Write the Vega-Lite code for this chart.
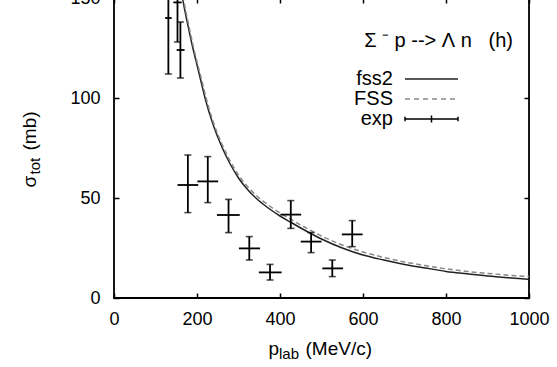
{
  "$schema": "https://vega.github.io/schema/vega-lite/v6.json",
  "width": 415,
  "height": 300,
  "autosize": {"type": "none"},
  "padding": {"left": 114, "top": -2, "right": 28, "bottom": 69},
  "background": "white",
  "config": {
    "font": "Liberation Sans",
    "view": {"stroke": "black", "strokeWidth": 1.8},
    "axis": {
      "grid": false, "domain": false, "tickColor": "black", "tickSize": -5, "tickWidth": 1.5,
      "labelColor": "black", "labelFontSize": 18, "labelFont": "Liberation Sans",
      "labelFlush": false, "labelOverlap": false,
      "titleColor": "black", "titleFont": "Liberation Sans", "titleFontWeight": "normal"
    }
  },
  "title": {
    "text": "Σ\u00a0⁻\u00a0p\u00a0-->\u00a0Λ\u00a0n\u00a0\u00a0\u00a0(h)", "frame": "group", "anchor": "end", "orient": "top",
    "offset": 0, "baseline": "middle", "dx": -16, "dy": 72,
    "fontSize": 20, "fontWeight": "normal", "font": "Liberation Sans", "color": "black"
  },
  "datasets": {
    "fss2": [
      {"p": 155, "s": 163}, {"p": 160, "s": 156}, {"p": 165, "s": 150}, {"p": 170, "s": 144.5},
      {"p": 180, "s": 134.5}, {"p": 190, "s": 125}, {"p": 200, "s": 116.5}, {"p": 210, "s": 108},
      {"p": 220, "s": 99.5}, {"p": 240, "s": 86}, {"p": 260, "s": 75.5}, {"p": 280, "s": 67},
      {"p": 300, "s": 60}, {"p": 325, "s": 53.5}, {"p": 350, "s": 48.5}, {"p": 375, "s": 44.5},
      {"p": 400, "s": 41}, {"p": 425, "s": 38}, {"p": 450, "s": 35}, {"p": 500, "s": 29.5},
      {"p": 550, "s": 25}, {"p": 600, "s": 21.5}, {"p": 650, "s": 19}, {"p": 700, "s": 16.8},
      {"p": 750, "s": 15}, {"p": 800, "s": 13.3}, {"p": 850, "s": 12.1}, {"p": 900, "s": 11},
      {"p": 950, "s": 10.1}, {"p": 1000, "s": 9.3}
    ],
    "FSS": [
      {"p": 157, "s": 163}, {"p": 162, "s": 156}, {"p": 167, "s": 150}, {"p": 172, "s": 144.5},
      {"p": 182, "s": 134.5}, {"p": 192, "s": 125}, {"p": 202, "s": 116.5}, {"p": 212, "s": 108.5},
      {"p": 222, "s": 100}, {"p": 240, "s": 87.5}, {"p": 260, "s": 77}, {"p": 280, "s": 68.5},
      {"p": 300, "s": 61.5}, {"p": 325, "s": 55}, {"p": 350, "s": 50}, {"p": 375, "s": 46},
      {"p": 400, "s": 42.5}, {"p": 425, "s": 39.5}, {"p": 450, "s": 36.5}, {"p": 500, "s": 31},
      {"p": 550, "s": 26.5}, {"p": 600, "s": 23}, {"p": 650, "s": 20.3}, {"p": 700, "s": 18},
      {"p": 750, "s": 16.2}, {"p": 800, "s": 14.6}, {"p": 850, "s": 13.3}, {"p": 900, "s": 12.3},
      {"p": 950, "s": 11.4}, {"p": 1000, "s": 10.7}
    ],
    "exp": [
      {"p": 131, "plo": 123, "phi": 139, "s": 140, "slo": 112, "shi": 168},
      {"p": 153, "plo": 143, "phi": 163, "s": 147.8, "slo": 128, "shi": 168},
      {"p": 160, "plo": 151, "phi": 170, "s": 124, "slo": 110, "shi": 138},
      {"p": 178, "plo": 153, "phi": 203, "s": 56.5, "slo": 42.7, "shi": 71.5},
      {"p": 226, "plo": 201, "phi": 251, "s": 58.3, "slo": 47.7, "shi": 70.7},
      {"p": 276, "plo": 248, "phi": 303, "s": 41.5, "slo": 32.7, "shi": 49.3},
      {"p": 326, "plo": 301, "phi": 352, "s": 24.8, "slo": 19, "shi": 30.7},
      {"p": 376, "plo": 349, "phi": 404, "s": 12.8, "slo": 9, "shi": 16.8},
      {"p": 426, "plo": 401, "phi": 451, "s": 41.7, "slo": 34.8, "shi": 48.7},
      {"p": 475, "plo": 450, "phi": 500, "s": 28.2, "slo": 22.7, "shi": 32.7},
      {"p": 526, "plo": 502, "phi": 552, "s": 14.8, "slo": 10.7, "shi": 19},
      {"p": 574, "plo": 549, "phi": 599, "s": 31.8, "slo": 25.7, "shi": 38.7}
    ],
    "key": [{"series": "fss2"}, {"series": "FSS"}, {"series": "exp"}]
  },
  "layer": [
    {
      "data": {"name": "fss2"},
      "mark": {"type": "line", "color": "#222222", "strokeWidth": 1.5, "clip": true, "interpolate": "monotone"},
      "encoding": {
        "x": {"field": "p", "type": "quantitative", "scale": {"domain": [0, 1000], "nice": false, "zero": false},
          "axis": {"orient": "bottom", "values": [0, 200, 400, 600, 800, 1000], "format": "d", "labelPadding": 17,
            "title": "p", "titleX": 154, "titleY": 56, "titleAlign": "left", "titleBaseline": "alphabetic", "titleAngle": 0, "titleFontSize": 19}},
        "y": {"field": "s", "type": "quantitative", "scale": {"domain": [0, 150], "nice": false, "zero": false},
          "axis": {"orient": "left", "values": [0, 50, 100, 150], "format": "d", "labelPadding": 19,
            "title": "σ", "titleX": -78.5, "titleY": 189, "titleAlign": "left", "titleBaseline": "alphabetic", "titleAngle": 270, "titleFontSize": 19}}
      }
    },
    {
      "data": {"name": "FSS"},
      "mark": {"type": "line", "color": "#888888", "strokeWidth": 1.5, "strokeDash": [5, 3], "clip": true, "interpolate": "monotone"},
      "encoding": {
        "x": {"field": "p", "type": "quantitative",
          "axis": {"orient": "bottom", "ticks": false, "labels": false, "domain": false,
            "title": "lab", "titleX": 164.5, "titleY": 60, "titleAlign": "left", "titleBaseline": "alphabetic", "titleAngle": 0, "titleFontSize": 15}},
        "y": {"field": "s", "type": "quantitative",
          "axis": {"orient": "left", "ticks": false, "labels": false, "domain": false,
            "title": "tot", "titleX": -74.5, "titleY": 176, "titleAlign": "left", "titleBaseline": "alphabetic", "titleAngle": 270, "titleFontSize": 15}}
      }
    },
    {
      "data": {"name": "exp"},
      "mark": {"type": "rule", "color": "black", "strokeWidth": 1.8, "clip": true},
      "encoding": {
        "x": {"field": "p", "type": "quantitative",
          "axis": {"orient": "bottom", "ticks": false, "labels": false, "domain": false,
            "title": "(MeV/c)", "titleX": 191, "titleY": 56, "titleAlign": "left", "titleBaseline": "alphabetic", "titleAngle": 0, "titleFontSize": 19}},
        "y": {"field": "slo", "type": "quantitative",
          "axis": {"orient": "left", "ticks": false, "labels": false, "domain": false,
            "title": "(mb)", "titleX": -78.5, "titleY": 152, "titleAlign": "left", "titleBaseline": "alphabetic", "titleAngle": 270, "titleFontSize": 19}},
        "y2": {"field": "shi"}
      }
    },
    {
      "data": {"name": "exp"},
      "mark": {"type": "rule", "color": "black", "strokeWidth": 1.8, "clip": true},
      "encoding": {
        "x": {"field": "plo", "type": "quantitative",
          "axis": {"orient": "top", "values": [0, 200, 400, 600, 800, 1000], "labels": false, "domain": false, "title": null}},
        "x2": {"field": "phi"},
        "y": {"field": "s", "type": "quantitative",
          "axis": {"orient": "right", "values": [0, 50, 100, 150], "labels": false, "domain": false, "title": null}}
      }
    },
    {
      "data": {"name": "exp"},
      "mark": {"type": "tick", "orient": "horizontal", "color": "black", "size": 7, "thickness": 1.6, "clip": true},
      "encoding": {
        "x": {"field": "p", "type": "quantitative", "axis": null},
        "y": {"field": "slo", "type": "quantitative", "axis": null}
      }
    },
    {
      "data": {"name": "exp"},
      "mark": {"type": "tick", "orient": "horizontal", "color": "black", "size": 7, "thickness": 1.6, "clip": true},
      "encoding": {
        "x": {"field": "p", "type": "quantitative", "axis": null},
        "y": {"field": "shi", "type": "quantitative", "axis": null}
      }
    },
    {
      "data": {"name": "key"},
      "mark": {"type": "point", "filled": false, "opacity": 0},
      "encoding": {
        "shape": {"field": "series", "type": "nominal",
          "scale": {"domain": ["fss2", "FSS", "exp"],
            "range": ["M-5.3,0H5.3",
              "M-5.3,0H-4.3M-3.5,0H-2.5M-1.7,0H-0.7M0.1,0H1.1M1.9,0H2.9M3.7,0H4.7",
              "M-5.3,0H5.3M-5.3,-0.45V0.45M5.3,-0.45V0.45M0,-0.7V0.7"]},
          "legend": {"title": null, "orient": "none", "legendX": 307.5, "legendY": 71,
            "symbolSize": 100, "symbolStrokeWidth": 1.5, "symbolFillColor": "transparent",
            "labelAlign": "right", "labelOffset": -48.5, "labelFontSize": 20, "labelColor": "black",
            "labelFont": "Liberation Sans", "rowPadding": 0, "padding": 0}},
        "color": {"field": "series", "type": "nominal",
          "scale": {"domain": ["fss2", "FSS", "exp"], "range": ["#222222", "#888888", "#000000"]},
          "legend": {"title": null}}
      }
    }
  ],
  "resolve": {"axis": {"x": "independent", "y": "independent"}}
}
